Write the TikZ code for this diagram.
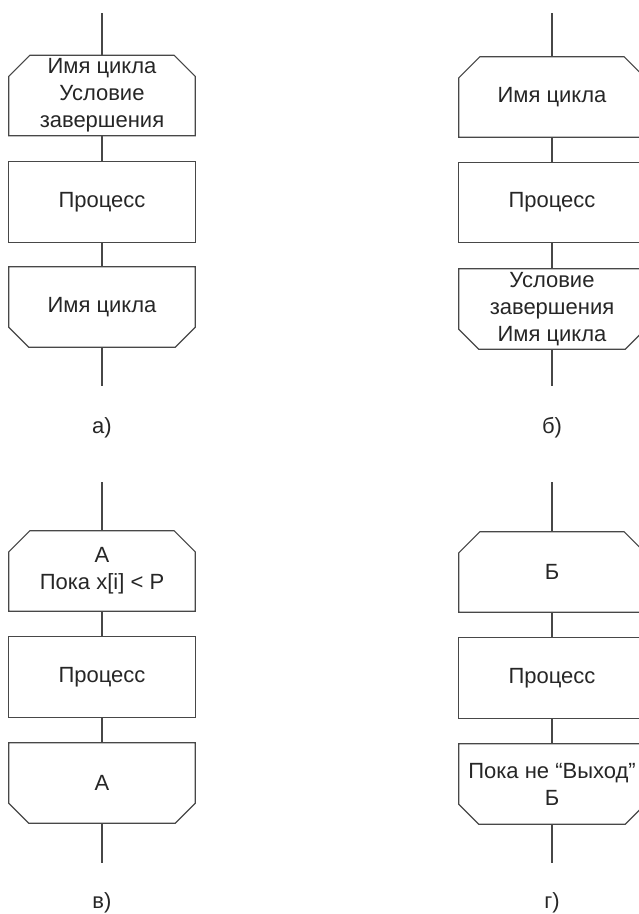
\documentclass[tikz,border=0pt]{standalone}
\usepackage{fontspec}
\setmainfont{Liberation Sans}

\tikzset{
  blk/.style={minimum width=186pt, minimum height=80pt, inner sep=0pt, align=center,
    font=\fontsize{22}{27}\selectfont, text=black!85},
  lnk/.style={draw=black!72, line width=1.2pt, line join=miter},
  sublbl/.style={font=\fontsize{22}{27}\selectfont, text=black!85},
}
% контуры блоков: прямоугольник, начало цикла (срез сверху), конец цикла (срез снизу)
\newcommand\boxproc[1]{\draw[lnk] (#1.north west) rectangle (#1.south east);}
\newcommand\boxopen[1]{\draw[lnk] ([xshift=21pt]#1.north west) -- ([xshift=-21pt]#1.north east)
  -- ([yshift=-21pt]#1.north east) -- (#1.south east) -- (#1.south west)
  -- ([yshift=-21pt]#1.north west) -- cycle;}
\newcommand\boxclose[1]{\draw[lnk] (#1.north west) -- (#1.north east)
  -- ([yshift=20pt]#1.south east) -- ([xshift=-20pt]#1.south east)
  -- ([xshift=20pt]#1.south west) -- ([yshift=20pt]#1.south west) -- cycle;}

\begin{document}
\begin{tikzpicture}[x=1pt, y=-1pt]

  %% ==== а) ====
  \coordinate (a0) at (102,13);
  \node[blk] (a1) at (102,95.5) {Имя цикла\\Условие\\завершения};
  \node[blk] (a2) at (102,202)  {Процесс};
  \node[blk] (a3) at (102,307)  {Имя цикла};
  \coordinate (a4) at (102,386);
  \node[sublbl] (la) at (102,428) {а)};

  %% ==== б) ====
  \coordinate (b0) at (552,13);
  \node[blk] (b1) at (552,97)    {Имя цикла};
  \node[blk] (b2) at (552,202.5) {Процесс};
  \node[blk] (b3) at (552,309)   {Условие\\завершения\\Имя цикла};
  \coordinate (b4) at (552,386);
  \node[sublbl] (lb) at (552,428) {б)};

  %% ==== в) ====
  \coordinate (c0) at (102,482);
  \node[blk] (c1) at (102,571)  {А\\Пока x[i] < P};
  \node[blk] (c2) at (102,677)  {Процесс};
  \node[blk] (c3) at (102,783)  {А};
  \coordinate (c4) at (102,863);
  \node[sublbl] (lc) at (102,903) {в)};

  %% ==== г) ====
  \coordinate (d0) at (552,482);
  \node[blk] (d1) at (552,572)  {Б};
  \node[blk] (d2) at (552,678)  {Процесс};
  \node[blk] (d3) at (552,784)  {Пока не “Выход”\\Б};
  \coordinate (d4) at (552,863);
  \node[sublbl] (ld) at (552,903) {г)};

  %% ==== контуры и связи ====
  \foreach \k in {a,b,c,d} {
    \boxopen{\k1}
    \boxproc{\k2}
    \boxclose{\k3}
    \draw[lnk] (\k0) -- (\k1);
    \draw[lnk] (\k1) -- (\k2);
    \draw[lnk] (\k2) -- (\k3);
    \draw[lnk] (\k3) -- (\k4);
  }

  % холст как у оригинала
  \pgfresetboundingbox
  \path[use as bounding box] (0,0) rectangle (638,914);
\end{tikzpicture}
\end{document}
